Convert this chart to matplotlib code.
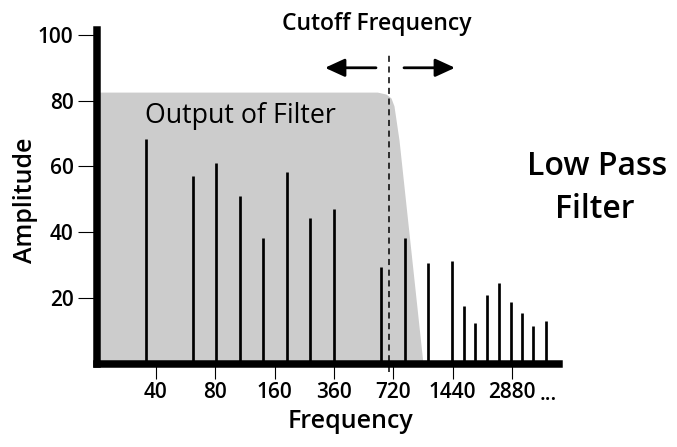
import matplotlib
matplotlib.use("Agg")
import matplotlib.pyplot as plt

plt.rcParams['font.family'] = ['Open Sans', 'DejaVu Sans']

# Data
tick_labels = ["40", "80", "160", "360", "720", "1440", "2880"]
tick_pos = [0, 1, 2, 3, 4, 5, 6]
harm_pos = [-0.169, 0.624, 1.016, 1.416, 1.809, 2.208, 2.601, 3.005, 3.797, 4.192,
            4.590, 4.989, 5.191, 5.382, 5.579, 5.781, 5.983, 6.174, 6.359, 6.568]
harm_amp = [68.2, 57.0, 61.1, 50.9, 38.1, 58.3, 44.3, 47.1, 29.4, 38.1,
            30.5, 31.2, 17.5, 12.2, 20.8, 24.4, 18.7, 15.3, 11.4, 13.0]
filter_pos = [-1.0, 3.73, 3.877, 3.961, 4.011, 4.096, 4.50]
filter_amp = [82.6, 82.6, 82.0, 80.8, 78.4, 68.0, 0.0]
cutoff_pos = 3.935

W, H = 677, 447
WT = "semibold"
fig = plt.figure(figsize=(W / 100, H / 100), dpi=100)
ax = fig.add_axes([97 / W, 1 - 363.5 / H, 462 / W, 333.5 / H])
x_lo = (97 - 156) / 59.33
x_hi = (559 - 156) / 59.33
ax.set_xlim(x_lo, x_hi)
ax.set_ylim(0, 101.5)

ax.fill_between(filter_pos, filter_amp, 0, color="#cccccc", lw=0, zorder=1)
ax.vlines(harm_pos, 0, harm_amp, color="black", lw=1.95, zorder=2)
ax.plot([cutoff_pos, cutoff_pos], [-2.6, 94.5], color="black", lw=1.1,
        dashes=(4, 3), clip_on=False, zorder=3)

for s in ["top", "right"]:
    ax.spines[s].set_visible(False)
for s in ["left", "bottom"]:
    ax.spines[s].set_linewidth(5.4)
    ax.spines[s].set_zorder(4)
ax.spines["left"].set_capstyle("projecting")

ax.set_yticks([20, 40, 60, 80, 100])
ax.set_xticks(tick_pos)
ax.set_xticklabels(tick_labels)
ax.tick_params(axis="y", length=14, width=0.8, pad=3, labelsize=15)
ax.tick_params(axis="x", length=10.5, width=0.8, pad=3, labelsize=15)
for lab in ax.get_xticklabels() + ax.get_yticklabels():
    lab.set_fontweight(WT)

fig.text(548 / W, 1 - 400 / H, "...", ha="center", va="baseline",
         fontsize=15, fontweight=WT)

ax.set_xlabel("Frequency", fontsize=18, fontweight=WT)
ax.set_ylabel("Amplitude", fontsize=18, fontweight=WT)
ax.xaxis.set_label_coords((350 - 97) / 462, (363.5 - 428) / 333.5)
ax.xaxis.label.set_va("baseline")
ax.yaxis.set_label_coords((26 - 97) / 462, (363.5 - 200) / 333.5)
ax.yaxis.label.set_va("center")

# arrows
arrow_style = "-|>,head_length=1.2,head_width=0.55"
ax.annotate("", xy=((325 - 156) / 59.33, 90), xytext=((376 - 156) / 59.33, 90),
            arrowprops=dict(arrowstyle=arrow_style, color="black", lw=2,
                            shrinkA=0, shrinkB=0),
            annotation_clip=False)
ax.annotate("", xy=((455 - 156) / 59.33, 90), xytext=((404 - 156) / 59.33, 90),
            arrowprops=dict(arrowstyle=arrow_style, color="black", lw=2,
                            shrinkA=0, shrinkB=0),
            annotation_clip=False)

fig.text(377 / W, 1 - 30 / H, "Cutoff Frequency", ha="center", va="baseline",
         fontsize=16.5, fontweight=WT)
fig.text(145 / W, 1 - 123 / H, "Output of Filter", ha="left", va="baseline",
         fontsize=19.3)
fig.text(597 / W, 1 - 175 / H, "Low Pass", ha="center", va="baseline",
         fontsize=23, fontweight=WT)
fig.text(595 / W, 1 - 218 / H, "Filter", ha="center", va="baseline",
         fontsize=23, fontweight=WT)

fig.savefig("out.png", dpi=100)
